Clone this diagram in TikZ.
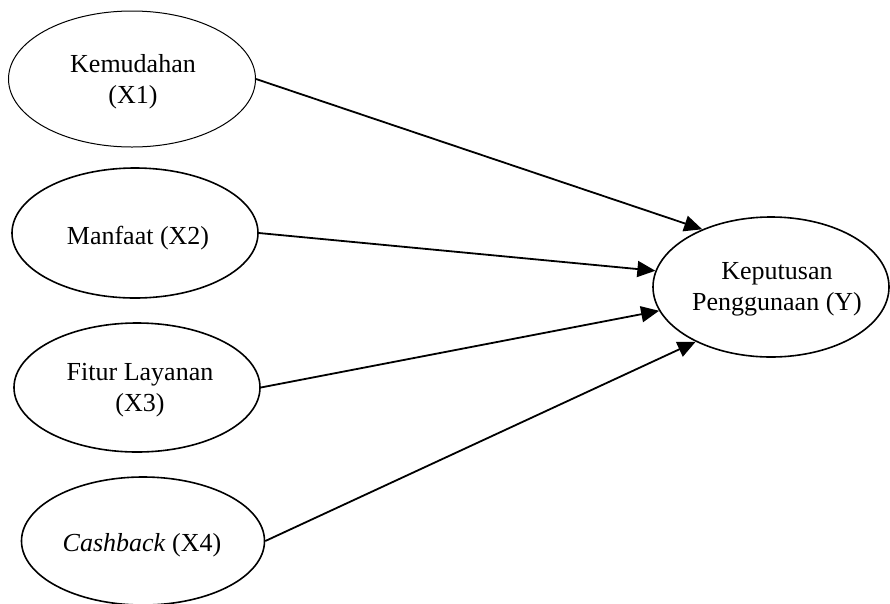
\documentclass[tikz,border=0pt]{standalone}
\usepackage{fontspec}
\setmainfont{Liberation Serif}
\usetikzlibrary{arrows.meta,shapes.geometric}
\tikzset{
  oval/.style={draw=black, ellipse, line width=1.6pt, inner sep=0pt},
  lbl/.style={align=center, inner sep=0pt, font=\fontsize{26}{31}\selectfont},
  arr/.style={line width=1.8pt, -{Triangle[length=18pt,width=16pt]}}
}
\begin{document}
\begin{tikzpicture}[x=1pt,y=-1pt]
\useasboundingbox (0,0) rectangle (890,603);
\node[oval, line width=1pt, minimum width=247pt, minimum height=136pt] (x1) at (132,79) {};
\node[lbl] (t1) at (133,82) {Kemudahan\\(X1)};
\node[oval, minimum width=246pt, minimum height=130pt] (x2) at (135,233) {};
\node[lbl] (t2) at (138,238) {Manfaat (X2)};
\node[oval, minimum width=246pt, minimum height=129pt] (x3) at (137,387.5) {};
\node[lbl] (t3) at (140,390) {Fitur Layanan\\(X3)};
\node[oval, minimum width=243pt, minimum height=128pt] (x4) at (143,541) {};
\node[lbl] (t4) at (142,545) {\textit{Cashback} (X4)};
\node[oval, minimum width=236pt, minimum height=140pt] (y) at (771,287) {};
\node[lbl] (ty) at (777,289) {Keputusan\\Penggunaan (Y)};
\draw[arr] (x1.east) -- (y.140);
\draw[arr] (x2.east) -- (y.172);
\draw[arr] (x3.east) -- (y.192);
\draw[arr] (x4.east) -- (y.216);
\end{tikzpicture}
\end{document}
